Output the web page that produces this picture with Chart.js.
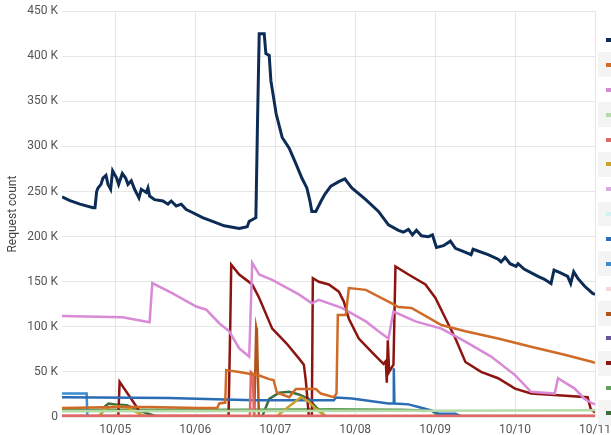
<!DOCTYPE html>
<html>
<head>
<meta charset="utf-8">
<script src="https://cdn.jsdelivr.net/npm/chart.js@4"></script>
<style>
  html, body { margin: 0; padding: 0; background: #fff; overflow: hidden; }
  #wrap { position: relative; width: 611px; height: 435px; overflow: hidden; }
  #legend { position: absolute; left: 598px; top: 27.6px; width: 200px; }
  #legend div { height: 24.87px; position: relative; background: #fff; }
  #legend div:nth-child(even) { background: #f4f4f4; }
  #legend span { position: absolute; left: 8px; top: 10.5px; width: 8px; height: 4px; }
</style>
</head>
<body>
<div id="wrap">
  <canvas id="chart" width="611" height="435"></canvas>
  <div id="legend"></div>
</div>
<script>
// x = hours since 10/04 00:00, y = requests in thousands
var dayHours = [24, 48, 72, 96, 120, 144, 168]
var dayLabels = ['10/05', '10/06', '10/07', '10/08', '10/09', '10/10', '10/11']
var yTicks = [0, 50, 100, 150, 200, 250, 300, 350, 400, 450]

var navy = [[8,244],[10.4,240],[13.4,236],[17.3,232],[17.9,232],[18.4,250],[18.8,254],[19.7,258],[20.3,265],[21.2,268],[21.8,258],[22.6,252.5],[23.2,273],[24.4,265],[25,258],[26.1,270],[27.1,265],[27.8,258],[28.8,262],[29.8,252.5],[31.1,243],[31.8,252.5],[33.3,249],[33.8,254],[34.3,245],[35.8,241],[38.3,239.5],[39.8,236],[40.8,239.5],[42.3,234],[43.8,236],[45.3,230],[47.3,226.5],[50.2,221],[53.2,217],[56.7,212],[61.2,209],[63.6,211],[64.2,217],[65.2,219],[66.2,221],[66.7,329],[67.2,425],[68.7,425],[69.2,403],[70.2,401],[70.7,373],[72.3,336],[74.1,310],[76.2,298],[78.2,281],[80,265],[81.5,254],[82.4,240],[83,228],[84.2,228],[85.7,239],[86.9,247],[88.7,256],[91.1,261],[92.9,264],[95,254],[99.2,241],[103,228],[106,213],[109,207],[110.5,205],[112,208],[113.2,202],[114.4,207],[115.9,201],[118,200],[119.2,202],[120.4,188],[122.5,190],[124.6,195],[126.1,187],[128.8,183],[130.8,180],[131.4,186],[135.9,180],[138.9,175],[139.8,172],[141,177],[142.5,170],[144.3,167],[144.9,170],[146.7,164],[150.9,156],[152.7,153],[154.8,148],[155.7,163],[157.5,160],[159.8,156],[160.7,148],[161.6,161],[162.8,154],[164.9,145],[167.3,137],[168,136]]
var orange = [[8,10],[25,11],[34,11],[49,10],[54.6,10],[55.2,15],[57,16],[57.3,52],[61.2,50],[67.2,46],[70.2,42],[71.5,41],[72.5,27],[76.2,22],[78.2,31],[84.2,31],[85.7,26],[89.6,22],[90.4,26],[90.8,113],[93.2,113],[94.1,143],[99.2,141],[107,126],[109,122],[112.9,121],[121.9,102],[129.1,95],[138.9,87],[148.8,78],[158.9,69],[167.3,61],[168,60]]
var pink = [[8,112],[26.2,110.6],[34.3,105],[35.1,148.5],[41.2,137],[48.3,122.5],[51.3,119],[55.2,104],[58.2,95],[61.2,76],[64.2,67],[65.1,171],[67.2,158],[71.1,152],[79.1,136],[83,126],[85.1,130],[92,121],[99.2,106],[103,95],[106,87],[107.5,117],[114.1,106],[121.9,98],[129.1,83.5],[136.8,67],[144,46.5],[148.8,28],[155.9,26],[156.9,43],[161.9,31.5],[164.9,20],[167.3,15],[168,14]]
var lightGreen = [[8,6.5],[120,7],[168,7.5]]
var salmon = [[8,1.5],[64.4,1.5],[64.7,50],[65.3,48],[65.6,1.5],[168,1.5]]
var gold = [[8,0.5],[19,0.5],[21,10],[24,12],[27,11],[30,6],[33,0.5],[72.5,0.5],[73.2,3],[76.2,12],[79.7,22],[82.1,17],[84.5,8],[87.2,0.5],[168,0.5]]
var lightViolet = [[8,0.3],[168,0.3]]
var lightCyan = [[8,0.3],[168,0.3]]
var darkBlue = [[8,22],[40,21],[57,19.5],[66,18.5],[89.6,18.5],[90.2,21.5],[95,20.5],[106,15],[107.4,15],[107.6,54],[107.8,15],[112,14],[115,11],[118.9,7.4],[121,3.7],[126.1,3.7],[128,0.5],[168,0.5]]
var blue = [[8,26],[15.4,26],[15.6,0.5],[168,0.5]]
var lightPink = [[8,0.3],[168,0.3]]
var brown = [[8,0.5],[65.7,0.5],[66.3,99],[66.5,95],[67.1,0.5],[168,0.5]]
var purple = [[8,0.3],[168,0.3]]
var darkRed = [[8,1],[24.9,1],[25.3,39],[30.8,9],[31.5,1],[58,1],[58.5,100],[58.8,169],[61.2,158],[65.1,147],[67.2,132],[71.1,98],[75.3,82],[79.1,65],[80.6,58],[81.2,40],[82.1,1],[83,1],[83.3,154],[85.1,150],[88.1,147],[91.1,139],[92.6,128],[94.1,109],[97.1,87],[101,72],[104.5,59],[105.2,62],[105.5,38],[105.8,85],[106.2,50],[107.5,58],[108.1,167],[112,158],[117.1,147],[120.1,132],[123.1,109.5],[126.1,87],[129.1,61],[133.8,50],[138.9,43],[144,31.5],[148.8,26],[156.9,24],[165.8,22],[166.7,9],[168,5]]
var green = [[8,8],[60,8],[90,8.5],[110,8],[119,7],[121,1],[168,1]]
var darkGreen = [[8,0.5],[19.4,0.5],[21,12],[22,15],[24,14],[27.4,13],[30,9],[32.8,5],[36.4,0.5],[68.1,0.5],[70.2,20],[73.2,27],[76.2,28],[79.1,25],[82.1,20],[84.5,10],[87.2,0.5],[168,0.5]]

var series = [
    [navy, '#0c2c56', 3],
    [orange, '#cf6a27', 2.5],
    [pink, '#d98ad6', 2.5],
    [lightGreen, '#b4dba8', 2.5],
    [salmon, '#e26868', 2.5],
    [gold, '#c9a227', 2.5],
    [lightViolet, '#dda9e3', 2.5],
    [lightCyan, '#d2f1f3', 2.5],
    [darkBlue, '#2a6db4', 2.5],
    [blue, '#3d8bd0', 2.5],
    [lightPink, '#f6d6dc', 2.5],
    [brown, '#b0561c', 2.5],
    [purple, '#6a54a0', 2.5],
    [darkRed, '#8c1512', 2.5],
    [green, '#61a15b', 2.5],
    [darkGreen, '#3c6e3c', 2.5],
]

var datasets = series.map(function (s) {
    return {
        data: s[0].map(function (p) { return {x: p[0], y: p[1]} }),
        borderColor: s[1],
        backgroundColor: s[1],
        borderWidth: s[2],
        pointRadius: 0,
        tension: 0,
        fill: false,
    }
})

// legend is cut off by the frame, only the markers show
var legend = document.getElementById('legend')
series.forEach(function (s) {
    var row = document.createElement('div')
    var mark = document.createElement('span')
    mark.style.background = s[1]
    row.appendChild(mark)
    legend.appendChild(row)
})

var font = {family: 'Roboto', size: 12}
new Chart(document.getElementById('chart'), {
    type: 'line',
    data: {datasets: datasets},
    options: {
        responsive: false,
        animation: false,
        layout: {padding: {left: 4, right: 16, top: 6, bottom: 0}},
        plugins: {legend: {display: false}, tooltip: {enabled: false}},
        scales: {
            x: {
                type: 'linear',
                min: 8,
                max: 168,
                afterBuildTicks: function (axis) {
                    axis.ticks = dayHours.map(function (v) { return {value: v} })
                },
                afterFit: function (axis) {
                    axis.height = 18
                    axis.paddingRight = 0
                    axis.paddingLeft = 0
                },
                grid: {color: '#e6e6e6', drawTicks: false},
                border: {display: false},
                ticks: {
                    font: font,
                    color: '#555',
                    padding: 6,
                    maxRotation: 0,
                    callback: function (v) { return dayLabels[dayHours.indexOf(v)] }
                }
            },
            y: {
                min: 0,
                max: 450,
                afterBuildTicks: function (axis) {
                    axis.ticks = yTicks.map(function (v) { return {value: v} })
                },
                afterFit: function (axis) { axis.width = 58 },
                grid: {color: '#e6e6e6', drawTicks: false},
                border: {display: false},
                title: {display: true, text: 'Request count', font: font, color: '#444', padding: {top: 2, bottom: 4}},
                ticks: {
                    font: font,
                    color: '#555',
                    padding: 4,
                    callback: function (v) { return v === 0 ? '0' : v + ' K' }
                }
            }
        }
    }
})
</script>
</body>
</html>
